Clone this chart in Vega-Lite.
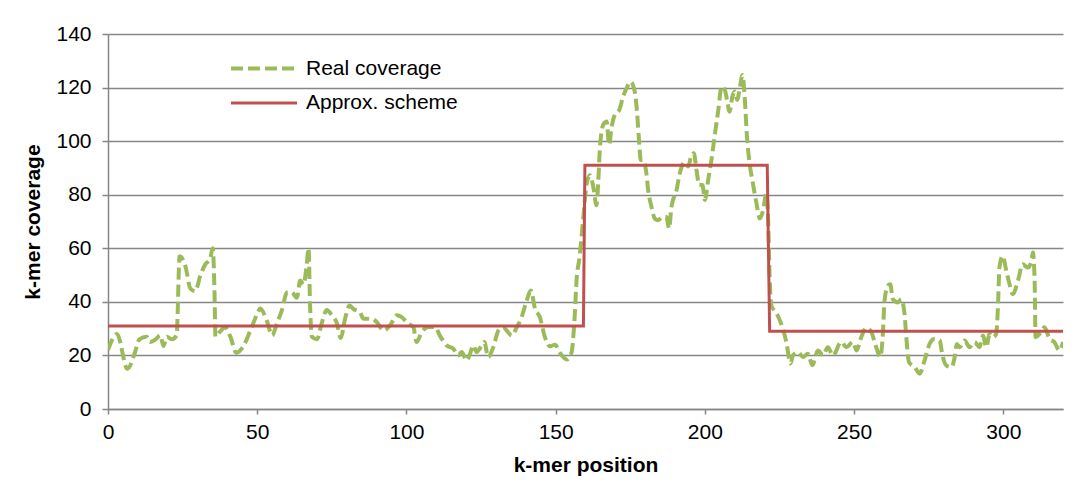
{
  "$schema": "https://vega.github.io/schema/vega-lite/v6.json",
  "autosize": "none",
  "padding": {"left": 108, "top": 34, "right": 29, "bottom": 77},
  "width": 955,
  "height": 375,
  "background": "white",
  "config": {
    "font": "Liberation Sans",
    "view": {"stroke": null},
    "axis": {"labelFont": "Liberation Sans", "titleFont": "Liberation Sans", "labelFontSize": 21, "titleFontSize": 21, "labelColor": "#000000", "titleColor": "#000000", "domainColor": "#868686", "tickColor": "#868686", "gridColor": "#868686", "gridOpacity": 1, "domainWidth": 1.5, "tickWidth": 1.5, "gridWidth": 1.5, "labelFlush": false},
    "legend": {"labelFont": "Liberation Sans", "labelFontSize": 21, "labelColor": "#000000", "orient": "none", "legendX": 137.5, "legendY": 16, "symbolType": "M-2,0H2", "symbolSize": 1089, "labelOffset": 23.5, "padding": 0, "rowPadding": 6}
  },
  "datasets": {
    "real": [
      {"x": 0, "y": 22, "s": "Real coverage"}, {"x": 3, "y": 28, "s": "Real coverage"}, {"x": 6.5, "y": 15, "s": "Real coverage"}, {"x": 9, "y": 21, "s": "Real coverage"},
      {"x": 10.5, "y": 26, "s": "Real coverage"}, {"x": 13, "y": 27, "s": "Real coverage"}, {"x": 14, "y": 25, "s": "Real coverage"}, {"x": 16, "y": 26, "s": "Real coverage"},
      {"x": 17.5, "y": 27.5, "s": "Real coverage"}, {"x": 18.6, "y": 23.5, "s": "Real coverage"}, {"x": 19.7, "y": 27, "s": "Real coverage"}, {"x": 21.4, "y": 26, "s": "Real coverage"},
      {"x": 23, "y": 27.5, "s": "Real coverage"}, {"x": 24, "y": 57, "s": "Real coverage"}, {"x": 26, "y": 53, "s": "Real coverage"}, {"x": 27.6, "y": 45, "s": "Real coverage"},
      {"x": 29.2, "y": 44, "s": "Real coverage"}, {"x": 31, "y": 50, "s": "Real coverage"}, {"x": 32.6, "y": 54, "s": "Real coverage"}, {"x": 34.2, "y": 56, "s": "Real coverage"},
      {"x": 35.1, "y": 60, "s": "Real coverage"}, {"x": 35.7, "y": 43, "s": "Real coverage"}, {"x": 36, "y": 27, "s": "Real coverage"}, {"x": 37.6, "y": 29, "s": "Real coverage"},
      {"x": 39.3, "y": 30.5, "s": "Real coverage"}, {"x": 41, "y": 27, "s": "Real coverage"}, {"x": 43, "y": 21, "s": "Real coverage"}, {"x": 45.4, "y": 23.5, "s": "Real coverage"},
      {"x": 47.6, "y": 29, "s": "Real coverage"}, {"x": 50, "y": 35.5, "s": "Real coverage"}, {"x": 51, "y": 37.5, "s": "Real coverage"}, {"x": 53.2, "y": 33, "s": "Real coverage"},
      {"x": 55, "y": 27.5, "s": "Real coverage"}, {"x": 56.6, "y": 32, "s": "Real coverage"}, {"x": 58.3, "y": 37, "s": "Real coverage"}, {"x": 60, "y": 43.5, "s": "Real coverage"},
      {"x": 61.6, "y": 43.5, "s": "Real coverage"}, {"x": 63.3, "y": 41.5, "s": "Real coverage"}, {"x": 64.4, "y": 48, "s": "Real coverage"}, {"x": 65.5, "y": 46.5, "s": "Real coverage"},
      {"x": 66.6, "y": 54, "s": "Real coverage"}, {"x": 67.2, "y": 60, "s": "Real coverage"}, {"x": 67.7, "y": 39, "s": "Real coverage"}, {"x": 68.3, "y": 27, "s": "Real coverage"},
      {"x": 70, "y": 26, "s": "Real coverage"}, {"x": 71.6, "y": 32, "s": "Real coverage"}, {"x": 73.3, "y": 37, "s": "Real coverage"}, {"x": 75, "y": 35, "s": "Real coverage"},
      {"x": 76.7, "y": 32, "s": "Real coverage"}, {"x": 78, "y": 26.5, "s": "Real coverage"}, {"x": 79.5, "y": 34, "s": "Real coverage"}, {"x": 81, "y": 38.6, "s": "Real coverage"},
      {"x": 82.2, "y": 37.4, "s": "Real coverage"}, {"x": 84.5, "y": 36, "s": "Real coverage"}, {"x": 85.6, "y": 33.7, "s": "Real coverage"}, {"x": 88.4, "y": 33.7, "s": "Real coverage"},
      {"x": 90.1, "y": 32.4, "s": "Real coverage"}, {"x": 92.3, "y": 29.3, "s": "Real coverage"}, {"x": 94.5, "y": 31.2, "s": "Real coverage"}, {"x": 96.8, "y": 35, "s": "Real coverage"},
      {"x": 98.4, "y": 34.3, "s": "Real coverage"}, {"x": 100.6, "y": 31.8, "s": "Real coverage"}, {"x": 102.3, "y": 30.6, "s": "Real coverage"}, {"x": 103.4, "y": 25, "s": "Real coverage"},
      {"x": 105.1, "y": 28.7, "s": "Real coverage"}, {"x": 107.3, "y": 30.6, "s": "Real coverage"}, {"x": 109.6, "y": 30.6, "s": "Real coverage"}, {"x": 111.2, "y": 27.4, "s": "Real coverage"},
      {"x": 113.5, "y": 23.7, "s": "Real coverage"}, {"x": 115.7, "y": 22.5, "s": "Real coverage"}, {"x": 117.4, "y": 20, "s": "Real coverage"}, {"x": 118.5, "y": 21.3, "s": "Real coverage"},
      {"x": 120.2, "y": 18.1, "s": "Real coverage"}, {"x": 121.3, "y": 20.6, "s": "Real coverage"}, {"x": 122.4, "y": 23.7, "s": "Real coverage"}, {"x": 123.5, "y": 21.3, "s": "Real coverage"},
      {"x": 125.2, "y": 23.7, "s": "Real coverage"}, {"x": 126.1, "y": 25, "s": "Real coverage"}, {"x": 127.4, "y": 19.4, "s": "Real coverage"}, {"x": 129.1, "y": 23.1, "s": "Real coverage"},
      {"x": 130.8, "y": 29.3, "s": "Real coverage"}, {"x": 132.4, "y": 30.6, "s": "Real coverage"}, {"x": 133.6, "y": 29.3, "s": "Real coverage"}, {"x": 135.3, "y": 27.4, "s": "Real coverage"},
      {"x": 137, "y": 30.6, "s": "Real coverage"}, {"x": 138.6, "y": 34.3, "s": "Real coverage"}, {"x": 140.3, "y": 40.5, "s": "Real coverage"}, {"x": 141.7, "y": 44.2, "s": "Real coverage"},
      {"x": 143.1, "y": 37.4, "s": "Real coverage"}, {"x": 144.7, "y": 34.3, "s": "Real coverage"}, {"x": 146.4, "y": 26.8, "s": "Real coverage"}, {"x": 148.1, "y": 23.4, "s": "Real coverage"},
      {"x": 149.8, "y": 24, "s": "Real coverage"}, {"x": 151.4, "y": 21, "s": "Real coverage"}, {"x": 153.8, "y": 18.5, "s": "Real coverage"}, {"x": 155.3, "y": 21, "s": "Real coverage"},
      {"x": 156.4, "y": 35, "s": "Real coverage"}, {"x": 157, "y": 48, "s": "Real coverage"}, {"x": 158, "y": 56.7, "s": "Real coverage"}, {"x": 159.2, "y": 70.5, "s": "Real coverage"},
      {"x": 160.4, "y": 84.2, "s": "Real coverage"}, {"x": 161.5, "y": 87.3, "s": "Real coverage"}, {"x": 162.6, "y": 83, "s": "Real coverage"}, {"x": 163.7, "y": 76.1, "s": "Real coverage"},
      {"x": 164.3, "y": 85.5, "s": "Real coverage"}, {"x": 164.8, "y": 96.7, "s": "Real coverage"}, {"x": 165.9, "y": 106, "s": "Real coverage"}, {"x": 167.1, "y": 107.3, "s": "Real coverage"},
      {"x": 167.9, "y": 98.6, "s": "Real coverage"}, {"x": 168.7, "y": 104.8, "s": "Real coverage"}, {"x": 169.8, "y": 109.8, "s": "Real coverage"}, {"x": 171.3, "y": 111.6, "s": "Real coverage"},
      {"x": 172.6, "y": 116.6, "s": "Real coverage"}, {"x": 173.8, "y": 119.8, "s": "Real coverage"}, {"x": 175.1, "y": 122.2, "s": "Real coverage"}, {"x": 176.5, "y": 118.5, "s": "Real coverage"},
      {"x": 177.3, "y": 110.4, "s": "Real coverage"}, {"x": 178, "y": 99.2, "s": "Real coverage"}, {"x": 178.5, "y": 93, "s": "Real coverage"}, {"x": 179.3, "y": 93, "s": "Real coverage"},
      {"x": 180.4, "y": 88, "s": "Real coverage"}, {"x": 181, "y": 81.7, "s": "Real coverage"}, {"x": 182.1, "y": 75.5, "s": "Real coverage"}, {"x": 183.2, "y": 71.1, "s": "Real coverage"},
      {"x": 184.3, "y": 70.5, "s": "Real coverage"}, {"x": 186, "y": 71.7, "s": "Real coverage"}, {"x": 187.1, "y": 71.7, "s": "Real coverage"}, {"x": 188, "y": 67.4, "s": "Real coverage"},
      {"x": 188.8, "y": 75.5, "s": "Real coverage"}, {"x": 190.5, "y": 81.7, "s": "Real coverage"}, {"x": 191.6, "y": 88, "s": "Real coverage"}, {"x": 193.3, "y": 92.3, "s": "Real coverage"},
      {"x": 194.4, "y": 90.5, "s": "Real coverage"}, {"x": 195.5, "y": 94.8, "s": "Real coverage"}, {"x": 196.3, "y": 95.5, "s": "Real coverage"}, {"x": 197.2, "y": 89.2, "s": "Real coverage"},
      {"x": 198.1, "y": 83.6, "s": "Real coverage"}, {"x": 199.2, "y": 83.6, "s": "Real coverage"}, {"x": 200, "y": 78, "s": "Real coverage"}, {"x": 201.1, "y": 85.5, "s": "Real coverage"},
      {"x": 202.2, "y": 93, "s": "Real coverage"}, {"x": 203.4, "y": 102.9, "s": "Real coverage"}, {"x": 204.5, "y": 111.6, "s": "Real coverage"}, {"x": 205.6, "y": 120.4, "s": "Real coverage"},
      {"x": 206.7, "y": 119.1, "s": "Real coverage"}, {"x": 207.4, "y": 115.4, "s": "Real coverage"}, {"x": 208.3, "y": 111, "s": "Real coverage"}, {"x": 209.2, "y": 116.6, "s": "Real coverage"},
      {"x": 210, "y": 118.5, "s": "Real coverage"}, {"x": 210.8, "y": 115.4, "s": "Real coverage"}, {"x": 211.7, "y": 119.8, "s": "Real coverage"}, {"x": 212.6, "y": 124.7, "s": "Real coverage"},
      {"x": 213.4, "y": 115.4, "s": "Real coverage"}, {"x": 214.1, "y": 101.7, "s": "Real coverage"}, {"x": 215, "y": 91.7, "s": "Real coverage"}, {"x": 216.1, "y": 84.2, "s": "Real coverage"},
      {"x": 217.3, "y": 76.7, "s": "Real coverage"}, {"x": 218.4, "y": 71.1, "s": "Real coverage"}, {"x": 219.5, "y": 74.2, "s": "Real coverage"}, {"x": 220.6, "y": 80.5, "s": "Real coverage"},
      {"x": 221.2, "y": 70.5, "s": "Real coverage"}, {"x": 221.7, "y": 49.3, "s": "Real coverage"}, {"x": 222.3, "y": 38.5, "s": "Real coverage"}, {"x": 223.9, "y": 36, "s": "Real coverage"},
      {"x": 225.6, "y": 31.7, "s": "Real coverage"}, {"x": 227.3, "y": 25, "s": "Real coverage"}, {"x": 228.7, "y": 17, "s": "Real coverage"}, {"x": 229.5, "y": 20, "s": "Real coverage"},
      {"x": 231.2, "y": 21.2, "s": "Real coverage"}, {"x": 232.9, "y": 19.4, "s": "Real coverage"}, {"x": 234.5, "y": 20.6, "s": "Real coverage"}, {"x": 236, "y": 16.3, "s": "Real coverage"},
      {"x": 237.9, "y": 21.8, "s": "Real coverage"}, {"x": 239.6, "y": 20, "s": "Real coverage"}, {"x": 241.2, "y": 23.1, "s": "Real coverage"}, {"x": 242.9, "y": 20, "s": "Real coverage"},
      {"x": 245.7, "y": 25, "s": "Real coverage"}, {"x": 247.4, "y": 23.1, "s": "Real coverage"}, {"x": 249.6, "y": 25, "s": "Real coverage"}, {"x": 250.8, "y": 21.8, "s": "Real coverage"},
      {"x": 252.4, "y": 26.8, "s": "Real coverage"}, {"x": 254.1, "y": 30.3, "s": "Real coverage"}, {"x": 255.8, "y": 28.6, "s": "Real coverage"}, {"x": 257.4, "y": 23.1, "s": "Real coverage"},
      {"x": 258.8, "y": 19.4, "s": "Real coverage"}, {"x": 259.7, "y": 29.3, "s": "Real coverage"}, {"x": 260.2, "y": 40.4, "s": "Real coverage"}, {"x": 261.3, "y": 46, "s": "Real coverage"},
      {"x": 262.1, "y": 46.6, "s": "Real coverage"}, {"x": 263, "y": 41, "s": "Real coverage"}, {"x": 264.7, "y": 39.8, "s": "Real coverage"}, {"x": 265.8, "y": 41, "s": "Real coverage"},
      {"x": 266.9, "y": 35.5, "s": "Real coverage"}, {"x": 267.5, "y": 26.8, "s": "Real coverage"}, {"x": 268.4, "y": 17.5, "s": "Real coverage"}, {"x": 270.3, "y": 15.6, "s": "Real coverage"},
      {"x": 272, "y": 13.2, "s": "Real coverage"}, {"x": 273.6, "y": 18.1, "s": "Real coverage"}, {"x": 275.3, "y": 24.3, "s": "Real coverage"}, {"x": 277, "y": 26.2, "s": "Real coverage"},
      {"x": 278.7, "y": 25.6, "s": "Real coverage"}, {"x": 279.5, "y": 20.6, "s": "Real coverage"}, {"x": 280.9, "y": 16.3, "s": "Real coverage"}, {"x": 282.6, "y": 15.6, "s": "Real coverage"},
      {"x": 283.7, "y": 19.4, "s": "Real coverage"}, {"x": 284.4, "y": 24.3, "s": "Real coverage"}, {"x": 285.4, "y": 23.1, "s": "Real coverage"}, {"x": 287, "y": 25.6, "s": "Real coverage"},
      {"x": 288.7, "y": 23.1, "s": "Real coverage"}, {"x": 290.4, "y": 25, "s": "Real coverage"}, {"x": 292, "y": 23.1, "s": "Real coverage"}, {"x": 293.2, "y": 27.4, "s": "Real coverage"},
      {"x": 294.3, "y": 23.1, "s": "Real coverage"}, {"x": 295.4, "y": 28, "s": "Real coverage"}, {"x": 296.5, "y": 26.8, "s": "Real coverage"}, {"x": 297.6, "y": 28, "s": "Real coverage"},
      {"x": 298.2, "y": 38, "s": "Real coverage"}, {"x": 298.7, "y": 52.8, "s": "Real coverage"}, {"x": 299.8, "y": 57.1, "s": "Real coverage"}, {"x": 301, "y": 51.6, "s": "Real coverage"},
      {"x": 302.1, "y": 46.6, "s": "Real coverage"}, {"x": 303.2, "y": 42.9, "s": "Real coverage"}, {"x": 304.9, "y": 47.9, "s": "Real coverage"}, {"x": 306.5, "y": 54, "s": "Real coverage"},
      {"x": 308.2, "y": 52.8, "s": "Real coverage"}, {"x": 309.4, "y": 55.3, "s": "Real coverage"}, {"x": 309.9, "y": 58.4, "s": "Real coverage"}, {"x": 310.5, "y": 47.9, "s": "Real coverage"},
      {"x": 310.8, "y": 26.8, "s": "Real coverage"}, {"x": 312.1, "y": 28, "s": "Real coverage"}, {"x": 313.8, "y": 30.5, "s": "Real coverage"}, {"x": 315.5, "y": 26.2, "s": "Real coverage"},
      {"x": 317.1, "y": 25, "s": "Real coverage"}, {"x": 318.8, "y": 21.8, "s": "Real coverage"}, {"x": 320, "y": 25, "s": "Real coverage"}
    ],
    "approx": [
      {"x": 0, "y": 31, "s": "Approx. scheme"}, {"x": 159.3, "y": 31, "s": "Approx. scheme"}, {"x": 159.8, "y": 91, "s": "Approx. scheme"},
      {"x": 220.9, "y": 91, "s": "Approx. scheme"}, {"x": 221.7, "y": 29, "s": "Approx. scheme"}, {"x": 320, "y": 29, "s": "Approx. scheme"}
    ]
  },
  "encoding": {
    "x": {"field": "x", "type": "quantitative", "scale": {"domain": [0, 320], "nice": false},
      "axis": {"values": [0, 50, 100, 150, 200, 250, 300], "grid": false, "tickSize": 5, "labelPadding": 7, "title": "k-mer position", "titleFontWeight": "bold", "titlePadding": 12}},
    "y": {"field": "y", "type": "quantitative", "scale": {"domain": [0, 140], "nice": false},
      "axis": {"values": [0, 20, 40, 60, 80, 100, 120, 140], "grid": true, "tickSize": 6, "labelPadding": 11, "title": "k-mer coverage", "titleFontWeight": "bold", "titlePadding": 12}},
    "color": {"field": "s", "type": "nominal", "scale": {"domain": ["Real coverage", "Approx. scheme"], "range": ["#9BBB59", "#C0504D"]},
      "legend": {"title": null, "orient": "none", "legendX": 137.5, "legendY": 16, "symbolType": "M-2,0H2", "symbolSize": 1089, "labelOffset": 23.5, "padding": 0, "rowPadding": 6}},
    "strokeDash": {"field": "s", "type": "nominal", "scale": {"domain": ["Real coverage", "Approx. scheme"], "range": [[12, 5], [1, 0]]}, "legend": {"title": null}},
    "strokeWidth": {"field": "s", "type": "nominal", "scale": {"domain": ["Real coverage", "Approx. scheme"], "range": [4, 3]}, "legend": {"title": null}}
  },
  "layer": [
    {"data": {"name": "real"}, "mark": {"type": "line", "interpolate": "monotone", "clip": true}},
    {"data": {"name": "approx"}, "mark": {"type": "line"}}
  ]
}
